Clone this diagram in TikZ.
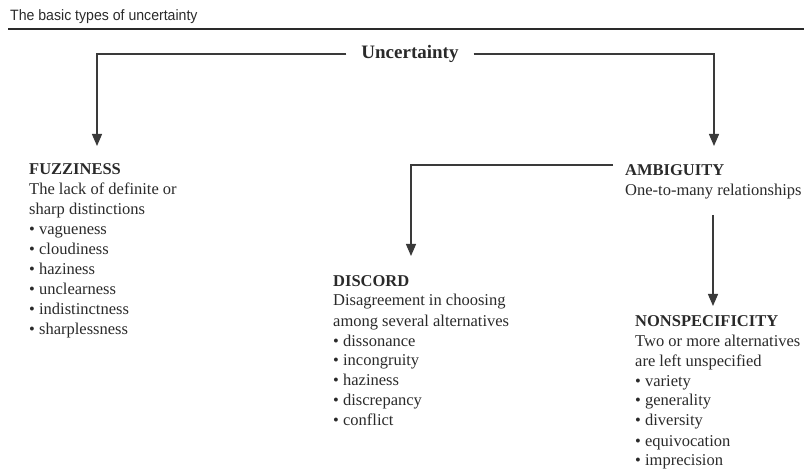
\documentclass[tikz,border=0pt]{standalone}
\usepackage{graphicx}
\usepackage{fontspec}
\setmainfont{Liberation Serif}
\newfontfamily\titlefont{Liberation Sans}
\usetikzlibrary{arrows.meta}
\definecolor{ink}{HTML}{2A2A2A}
\definecolor{linec}{HTML}{3A3A3A}
\tikzset{
  block/.style={anchor=base west, align=left, inner sep=0pt, text=ink,
    font=\fontsize{16.5}{20}\selectfont},
  conn/.style={draw=linec, line width=1.3pt},
  arr/.style={conn, -{Triangle[width=10pt,length=12pt]}},
}
\begin{document}
\begin{tikzpicture}[x=1pt,y=-1pt]
\useasboundingbox (0,0) rectangle (804,470);
\node[anchor=base west, inner sep=0pt, text=ink, font=\titlefont\fontsize{15}{17}\selectfont] (title) at (10,21) {\scalebox{0.94}[1]{The basic types of uncertainty}};
\draw[line width=1.6pt, ink] (8,29) -- (804,29);
\node[inner xsep=15pt, inner ysep=2pt, text=ink, font=\bfseries\fontsize{19}{22}\selectfont] (unc) at (410,54) {Uncertainty};
\coordinate (fzin) at (97,146);
\coordinate (ambin) at (714,146);
\coordinate (ambl) at (613,165);
\coordinate (disin) at (411,256);
\coordinate (ambd) at (713,215);
\coordinate (nonin) at (713,306);
\draw[arr] (unc.west) -| (fzin);
\draw[arr] (unc.east) -| (ambin);
\draw[arr] (ambl) -| (disin);
\draw[arr] (ambd) -- (nonin);
% anchor base = baseline of the last line
\node[block] (fuz) at (29,335) {\textbf{FUZZINESS}\\The lack of definite or\\sharp distinctions\\• vagueness\\• cloudiness\\• haziness\\• unclearness\\• indistinctness\\• sharplessness};
\node[block] (amb) at (625,196) {\textbf{AMBIGUITY}\\One-to-many relationships};
\node[block] (dis) at (333,426) {\textbf{DISCORD}\\Disagreement in choosing\\among several alternatives\\• dissonance\\• incongruity\\• haziness\\• discrepancy\\• conflict};
\node[block] (non) at (635,466) {\textbf{NONSPECIFICITY}\\Two or more alternatives\\are left unspecified\\• variety\\• generality\\• diversity\\• equivocation\\• imprecision};
\end{tikzpicture}
\end{document}
